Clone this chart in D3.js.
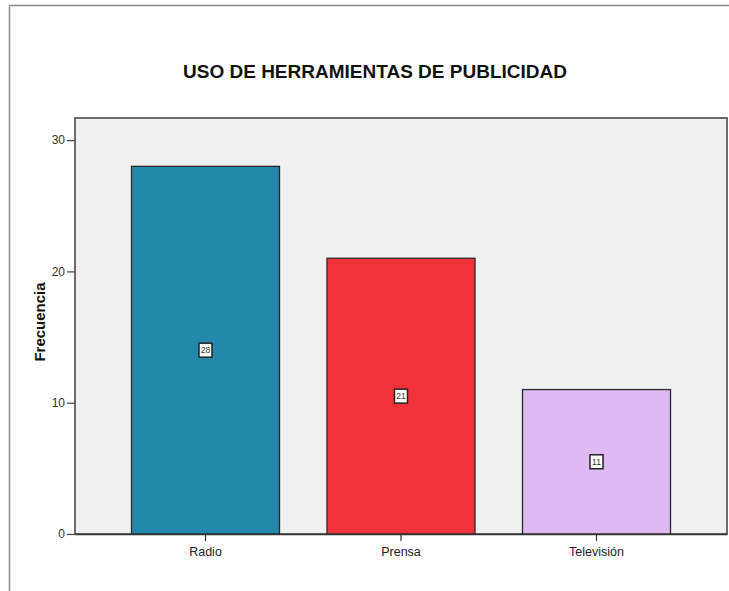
<!DOCTYPE html>
<html>
<head>
<meta charset="utf-8">
<script src="https://cdn.jsdelivr.net/npm/d3@7/dist/d3.min.js"></script>
<style>
  html, body { margin: 0; padding: 0; background: #fff; }
  svg { display: block; font-family: "Liberation Sans", Arial, sans-serif; }
</style>
</head>
<body>
<svg id="chart" width="729" height="591"></svg>
<script>
// Frequency of each advertising tool
const categories = ["Radio", "Prensa", "Televisión"];
const counts = [28, 21, 11];
const barColors = ["#2389ab", "#f1323b", "#dfb9f1"];
const yTicks = [0, 10, 20, 30];
const title = "USO DE HERRAMIENTAS DE PUBLICIDAD";
const yLabel = "Frecuencia";

const svg = d3.select("#chart");
const plot = { left: 75, right: 727, top: 118, bottom: 534 };

// outer frame (left and top edges)
svg.append("path")
  .attr("d", `M9.5,591 V5.5 H729`)
  .attr("fill", "none")
  .attr("stroke", "#8a8a8a")
  .attr("stroke-width", 1.5);

// plot background
svg.append("rect")
  .attr("x", plot.left).attr("y", plot.top)
  .attr("width", plot.right - plot.left).attr("height", plot.bottom - plot.top)
  .attr("fill", "#f0f0f0")
  .attr("stroke", "#4a4a4a")
  .attr("stroke-width", 1.6);

const x = d3.scaleBand()
  .domain(categories)
  .range([plot.left, plot.right])
  .paddingInner(0.243)
  .paddingOuter(0.289);

const y = d3.scaleLinear()
  .domain([0, 30])
  .range([plot.bottom, plot.bottom - 3 * 131.3]);

// bars
svg.append("g").selectAll("rect")
  .data(categories)
  .join("rect")
  .attr("x", d => x(d))
  .attr("y", (d, i) => y(counts[i]))
  .attr("width", x.bandwidth())
  .attr("height", (d, i) => y(0) - y(counts[i]))
  .attr("fill", (d, i) => barColors[i])
  .attr("stroke", "#2a2a2a")
  .attr("stroke-width", 1.3);

// value labels in small boxes at bar mid-height
const lab = svg.append("g").selectAll("g")
  .data(categories)
  .join("g")
  .attr("transform", (d, i) => `translate(${x(d) + x.bandwidth() / 2},${y(counts[i] / 2)})`);
lab.append("rect")
  .attr("x", -6.5).attr("y", -7)
  .attr("width", 13).attr("height", 14)
  .attr("fill", "#ffffff")
  .attr("stroke", "#222")
  .attr("stroke-width", 1.5);
lab.append("text")
  .attr("text-anchor", "middle")
  .attr("dy", "0.35em")
  .attr("font-size", 8.5)
  .attr("fill", "#333")
  .text((d, i) => counts[i]);

// y axis
const yAxis = svg.append("g")
  .attr("transform", `translate(${plot.left},0)`)
  .call(d3.axisLeft(y).tickValues(yTicks).tickSize(8).tickPadding(2).tickFormat(d3.format("d")));
yAxis.select(".domain").remove();
yAxis.selectAll(".tick line").attr("stroke", "#444").attr("stroke-width", 1.2);
yAxis.selectAll(".tick text").attr("font-size", 12).attr("fill", "#333")
  .attr("font-family", "'Liberation Sans', Arial, sans-serif");

// x axis
const xAxis = svg.append("g")
  .attr("transform", `translate(0,${plot.bottom})`)
  .call(d3.axisBottom(x).tickSize(7).tickSizeOuter(0).tickPadding(6));
xAxis.select(".domain").attr("stroke", "#333").attr("stroke-width", 1.6);
xAxis.selectAll(".tick line").attr("stroke", "#333").attr("stroke-width", 1.2);
xAxis.selectAll(".tick text").attr("font-size", 12.5).attr("fill", "#222")
  .attr("font-family", "'Liberation Sans', Arial, sans-serif");

// title
svg.append("text")
  .attr("x", 375).attr("y", 78)
  .attr("text-anchor", "middle")
  .attr("font-size", 17.5)
  .attr("font-weight", "bold")
  .attr("fill", "#111")
  .attr("textLength", 384)
  .attr("lengthAdjust", "spacingAndGlyphs")
  .text(title);

// y axis title
svg.append("text")
  .attr("transform", `translate(45,${(plot.top + plot.bottom) / 2 - 4}) rotate(-90)`)
  .attr("text-anchor", "middle")
  .attr("font-size", 15)
  .attr("font-weight", "bold")
  .attr("fill", "#111")
  .text(yLabel);
</script>
</body>
</html>
